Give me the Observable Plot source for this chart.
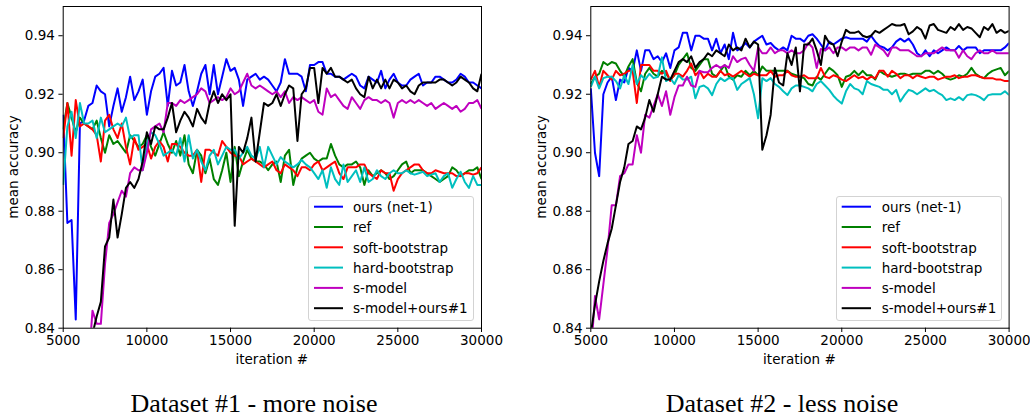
<!DOCTYPE html>
<html><head><meta charset="utf-8">
<script src="https://cdn.jsdelivr.net/npm/d3@7"></script>
<script src="https://cdn.jsdelivr.net/npm/@observablehq/plot@0.6"></script>
<style>
body{margin:0;background:#fff;}
#page{position:relative;width:1030px;height:417px;overflow:hidden;font-family:"DejaVu Sans",sans-serif;color:#000;}
.panel{position:absolute;top:0;}
.ylab{position:absolute;font-size:13.5px;line-height:1;transform:translate(-50%,-50%) rotate(-90deg);white-space:nowrap;}
.xlab{position:absolute;font-size:13.5px;line-height:1;transform:translateX(-50%);white-space:nowrap;}
.cap{position:absolute;font-family:"Liberation Serif","Times New Roman",serif;font-size:26px;line-height:24px;height:24px;transform:translateX(-50%);white-space:nowrap;}
.legend{position:absolute;border:1px solid #d3d3d3;border-radius:3px;background:rgba(255,255,255,0.85);box-sizing:border-box;}
.legend .row{position:absolute;left:0;height:20px;font-size:13.5px;line-height:1;white-space:nowrap;display:flex;align-items:center;}
.legend svg{position:absolute;left:0;top:0;overflow:visible;}
</style></head><body>
<div id="page"></div>
<script>
// ---------- data ----------
const iterations = [5000,5250,5500,5750,6000,6250,6500,6750,7000,7250,7500,7750,8000,8250,8500,8750,9000,9250,9500,9750,10000,10250,10500,10750,11000,11250,11500,11750,12000,12250,12500,12750,13000,13250,13500,13750,14000,14250,14500,14750,15000,15250,15500,15750,16000,16250,16500,16750,17000,17250,17500,17750,18000,18250,18500,18750,19000,19250,19500,19750,20000,20250,20500,20750,21000,21250,21500,21750,22000,22250,22500,22750,23000,23250,23500,23750,24000,24250,24500,24750,25000,25250,25500,25750,26000,26250,26500,26750,27000,27250,27500,27750,28000,28250,28500,28750,29000,29250,29500,29750,30000];

const seriesNames = ["ours (net-1)","ref","soft-bootstrap","hard-bootstrap","s-model","s-model+ours#1"];
const seriesColors = ["#0000ff","#008000","#ff0000","#00bfbf","#bf00bf","#000000"];
const xTicks = [5000,10000,15000,20000,25000,30000];
const yTicks = [0.84,0.86,0.88,0.90,0.92,0.94];
const captions = ["Dataset #1 - more noise","Dataset #2 - less noise"];

// Dataset #1
const d1Ours = [.913,.876,.877,.843, .910,.911,.916,.917, .923,.921,.920,.909, .916,.922,.914,.919, .926,.918,.921,.925,
 .913,.921,.926,.927, .929,.916,.928,.923, .924,.930,.921,.916, .921,.927,.930,.920, .930,.920,.926,.932,
 .928,.929,.925,.916, .925,.926,.927,.925, .926,.925,.923,.921, .924,.932,.927,.927, .927,.926,.921,.930,
 .930,.931,.931,.927, .927,.926,.926,.925, .926,.927,.926,.923, .922,.926,.925,.924, .928,.922,.925,.927,
 .924,.923,.923,.925, .926,.927,.923,.924, .924,.926,.926,.925, .924,.924,.925,.927, .926,.924,.924,.923, .922];
const d1Ref = [.908,.917,.912,.907, .912,.910,.909,.908, .911,.905,.900,.906, .903,.904,.902,.900, .906,.904,.902,.903,
 .906,.902,.899,.903, .907,.903,.900,.904, .899,.906,.896,.893, .901,.899,.893,.898, .891,.889,.894,.900,
 .890,.902,.892,.897, .901,.898,.897,.897, .896,.894,.896,.897, .890,.899,.901,.889, .895,.898,.899,.900,
 .898,.897,.898,.898, .903,.899,.896,.895, .896,.896,.897,.895, .889,.894,.892,.893, .894,.893,.891,.892,
 .894,.896,.897,.893, .894,.894,.894,.893, .892,.891,.890,.891, .892,.895,.894,.892, .893,.894,.894,.895, .891];
const d1Soft = [.905,.917,.899,.918, .909,.910,.909,.908, .906,.897,.911,.913, .908,.905,.910,.902, .896,.905,.901,.902,
 .903,.898,.902,.904, .902,.897,.903,.903, .902,.900,.899,.899, .901,.890,.901,.901, .900,.899,.904,.902,
 .900,.899,.899,.896, .897,.898,.897,.896, .895,.896,.897,.894, .893,.896,.895,.894, .892,.895,.895,.894,
 .896,.897,.894,.895, .896,.897,.893,.891, .895,.895,.895,.896, .896,.893,.892,.891, .894,.893,.893,.887,
 .891,.893,.894,.895, .896,.896,.894,.893, .893,.894,.8935,.893, .893,.893,.892,.892, .893,.893,.8925,.893, .895];
const d1Hard = [.889,.909,.914,.905, .917,.910,.910,.911, .905,.912,.907,.908, .909,.910,.909,.912, .905,.906,.906,.894,
 .903,.907,.906,.903, .899,.900,.901,.899, .905,.897,.906,.898, .901,.897,.894,.899, .901,.896,.899,.902,
 .901,.901,.898,.900, .902,.899,.898,.902, .895,.902,.899,.896, .8985,.897,.896,.895, .896,.8975,.896,.895,
 .893,.891,.894,.888, .895,.891,.889,.896, .890,.892,.894,.890, .895,.890,.891,.894, .892,.891,.893,.894,
 .893,.893,.894,.893, .8925,.893,.8935,.892, .8925,.893,.890,.892, .893,.888,.891,.8935, .890,.888,.892,.889, .889];
const d1S = [.770,.780,.790,.800, .810,.815,.826,.846, .8415,.8415,.862,.876, .879,.883,.887,.885, .893,.895,.894,.894,
 .900,.908,.909,.910, .907,.917,.917,.916, .918,.917,.918,.919, .920,.922,.921,.917, .918,.919,.918,.919,
 .922,.920,.921,.924, .927,.923,.922,.923, .922,.921,.920,.921, .919,.921,.917,.919, .918,.919,.918,.917,
 .918,.914,.913,.922, .919,.920,.918,.916, .915,.919,.917,.915, .918,.919,.918,.918, .917,.918,.917,.912,
 .917,.918,.917,.918, .917,.918,.917,.916, .917,.915,.916,.917, .916,.915,.916,.914, .915,.917,.917,.918, .915];
const d1SO = [.790,.800,.808,.815, .820,.826,.832,.838, .844,.849,.868,.871, .884,.871,.879,.888, .890,.888,.891,.897,
 .907,.903,.909,.908, .908,.912,.917,.907, .911,.914,.912,.909, .915,.912,.910,.917, .921,.917,.920,.918,
 .920,.875,.902,.900, .905,.912,.897,.907, .917,.916,.917,.920, .916,.920,.923,.922, .904,.920,.922,.929,
 .929,.917,.929,.927, .929,.926,.926,.925, .924,.925,.922,.920, .919,.926,.922,.925, .922,.925,.922,.925,
 .924,.922,.923,.921, .920,.923,.924,.924, .924,.924,.925,.925, .924,.923,.924,.926, .925,.924,.922,.921, .927];

// Dataset #2
const d2Ours = [.922,.900,.892,.920, .924,.926,.918,.925, .924,.929,.928,.935, .928,.935,.935,.932, .933,.931,.934,.929,
 .935,.936,.941,.941, .935,.940,.940,.939, .939,.935,.939,.934, .937,.932,.941,.935, .936,.9375,.936,.938,
 .939,.940,.937,.9375, .936,.935,.936,.935, .940,.939,.939,.938, .940,.9405,.939,.937, .935,.938,.937,.938,
 .939,.9395,.939,.939, .939,.939,.938,.940, .938,.9365,.936,.935, .936,.938,.939,.938, .939,.937,.934,.933,
 .935,.933,.935,.934, .935,.936,.935,.935, .9365,.935,.936,.936, .936,.934,.935,.935, .935,.935,.935,.936, .9375];
const d2Ref = [.9235,.926,.927,.931, .930,.931,.9305,.928, .926,.9295,.932,.924, .921,.927,.929,.927, .926,.928,.927,.925,
 .9265,.930,.932,.934, .929,.928,.930,.932, .932,.927,.926,.928, .930,.926,.925,.9265, .926,.928,.9265,.928,
 .9265,.9295,.928,.928, .928,.928,.928,.928, .927,.9265,.926,.9255, .9235,.923,.926,.925, .927,.929,.928,.9265,
 .9225,.926,.9265,.928, .9265,.928,.9265,.9265, .925,.928,.927,.9265, .926,.9265,.927,.927, .9265,.927,.927,.927,
 .928,.928,.927,.928, .927,.9255,.925,.9255, .9265,.926,.927,.929, .927,.926,.9255,.927, .928,.9285,.929,.9265, .928];
const d2Soft = [.925,.928,.9225,.928, .9265,.925,.928,.9265, .927,.928,.928,.917, .930,.930,.930,.928, .928,.927,.928,.9245,
 .927,.927,.926,.928, .9305,.9265,.928,.9255, .927,.926,.926,.928, .9265,.927,.926,.927, .928,.927,.926,.927,
 .9265,.9265,.9265,.928, .926,.9265,.9265,.928, .9265,.926,.926,.9265, .9255,.9255,.9255,.929, .926,.9255,.9265,.926,
 .925,.9245,.9255,.9265, .9255,.926,.925,.926, .9255,.928,.928,.926, .928,.927,.9255,.9265, .9265,.9255,.9265,.926,
 .9255,.926,.926,.925, .9255,.926,.926,.9265, .9255,.926,.926,.9265, .9265,.926,.9255,.9255, .9255,.925,.925,.9245, .9245];
const d2Hard = [.9225,.926,.922,.9255, .926,.926,.9245,.922, .9265,.9235,.930,.9235, .9265,.925,.927,.9255, .926,.9326,.9245,.9255,
 .9235,.9265,.925,.925, .926,.9186,.9225,.923, .922,.9197,.9235,.9255, .9245,.9255,.9255,.9215, .9235,.9245,.9255,.920,
 .9118,.9255,.9245,.9255, .9235,.9225,.921,.9197, .922,.923,.923,.9225, .922,.921,.9235,.9245, .923,.9215,.9195,.918,
 .9168,.921,.9235,.922, .9215,.920,.9245,.9235, .923,.9225,.9215,.9215, .920,.9215,.9175,.9197, .9215,.921,.920,.921,
 .922,.921,.9215,.9205, .9197,.918,.9186,.918, .919,.918,.9197,.920, .9197,.919,.918,.9197, .920,.920,.920,.921, .9197];
const d2S = [.830,.851,.843,.855, .867,.882,.882,.892, .893,.896,.896,.906, .900,.913,.912,.916, .920,.916,.921,.913,
 .919,.923,.923,.926, .923,.9225,.928,.9275, .9275,.929,.930,.929, .930,.929,.933,.931, .932,.9325,.930,.928,
 .936,.934,.934,.936, .934,.935,.935,.934, .935,.934,.934,.935, .9375,.936,.929,.9355, .935,.936,.934,.936,
 .936,.935,.936,.936, .935,.936,.936,.9335, .937,.936,.935,.933, .936,.936,.935,.935, .935,.934,.933,.933,
 .934,.934,.934,.935, .936,.935,.935,.935, .9325,.935,.933,.932, .934,.935,.934,.934, .935,.934,.934,.934, .934];
const d2SO = [.838,.848,.856,.863, .869,.874,.882,.890, .895,.903,.904,.909, .908,.912,.918,.914, .920,.926,.925,.925,
 .928,.931,.932,.931, .933,.929,.931,.932, .934,.933,.935,.934, .933,.937,.935,.936, .935,.939,.936,.938,
 .937,.901,.906,.913, .929,.924,.923,.934, .930,.936,.921,.937, .937,.939,.935,.930, .940,.9375,.937,.933,
 .938,.942,.941,.941, .9415,.940,.9395,.940, .9417,.941,.942,.943, .944,.9435,.9435,.944, .9405,.9415,.943,.942,
 .939,.9435,.944,.942, .9415,.941,.943,.942, .944,.942,.943,.9425, .941,.9395,.943,.942, .944,.941,.942,.941, .9417];

const panels = [
  {left: 0, width: 515, mL: 62.7, mR: 34, series: [d1Ours, d1Ref, d1Soft, d1Hard, d1S, d1SO], legendLeft: 308, lineX0: 5, lineX1: 34, textX: 44},
  {left: 528, width: 502, mL: 62.3, mR: 21.4, series: [d2Ours, d2Ref, d2Soft, d2Hard, d2S, d2SO], legendLeft: 836, lineX0: 4.7, lineX1: 34, textX: 44.7}
];

// ---------- drawing ----------
const page = document.getElementById("page");
const H = 372, mT = 6, frameBottom = 327.7;

panels.forEach((p, k) => {
  const lines = p.series.map((arr, j) =>
    Plot.line(iterations.map((it, i) => ({it, v: arr[i]})), {
      x: "it", y: "v", stroke: seriesColors[j], strokeWidth: 2, clip: true,
      strokeLinejoin: "round", strokeLinecap: "butt"
    })
  );
  const chart = Plot.plot({
    width: p.width, height: H,
    marginLeft: p.mL, marginRight: p.mR, marginTop: mT, marginBottom: H - frameBottom,
    style: {fontFamily: "DejaVu Sans", fontSize: "13.5px", color: "black", background: "transparent", overflow: "visible"},
    x: {domain: [5000, 30000]},
    y: {domain: [0.84, 0.95]},
    marks: [
      ...lines,
      Plot.frame({stroke: "black", strokeWidth: 1}),
      Plot.axisX({ticks: xTicks, tickFormat: d => String(d), tickSize: 4.3, tickPadding: 3, label: null, fontSize: 13.5}),
      Plot.axisY({ticks: yTicks, tickFormat: d3.format(".2f"), tickSize: 4.3, tickPadding: 4, label: null, fontSize: 13.5})
    ]
  });
  const holder = document.createElement("div");
  holder.className = "panel";
  holder.style.left = p.left + "px";
  holder.appendChild(chart);
  page.appendChild(holder);

  // axis titles
  const xl = document.createElement("div");
  xl.className = "xlab";
  xl.textContent = "iteration #";
  xl.style.left = (p.left + p.mL + (p.width - p.mL - p.mR) / 2) + "px";
  xl.style.top = "352.6px";
  page.appendChild(xl);

  const yl = document.createElement("div");
  yl.className = "ylab";
  yl.textContent = "mean accuracy";
  yl.style.left = (p.left + 13.5) + "px";
  yl.style.top = "167px";
  page.appendChild(yl);

  // legend
  const lg = document.createElement("div");
  lg.className = "legend";
  lg.style.left = p.legendLeft + "px";
  lg.style.top = "196px";
  lg.style.width = "166px";
  lg.style.height = "125px";
  seriesNames.forEach((name, j) => {
    const cy = 10.7 + 20.3 * j;
    const row = document.createElement("div");
    row.className = "row";
    row.style.top = (cy - 10) + "px";
    row.style.left = p.textX + "px";
    row.textContent = name;
    lg.appendChild(row);
    const s = document.createElementNS("http://www.w3.org/2000/svg", "svg");
    s.setAttribute("width", "1"); s.setAttribute("height", "1");
    const ln = document.createElementNS("http://www.w3.org/2000/svg", "line");
    ln.setAttribute("x1", p.lineX0); ln.setAttribute("x2", p.lineX1);
    ln.setAttribute("y1", cy - 1); ln.setAttribute("y2", cy - 1);
    ln.setAttribute("stroke", seriesColors[j]); ln.setAttribute("stroke-width", "2");
    s.appendChild(ln);
    lg.appendChild(s);
  });
  page.appendChild(lg);

  // caption
  const cap = document.createElement("div");
  cap.className = "cap";
  cap.textContent = captions[k];
  cap.style.left = (k === 0 ? 254 : 782) + "px";
  cap.style.top = "391.5px";
  page.appendChild(cap);
});
</script>
</body></html>
